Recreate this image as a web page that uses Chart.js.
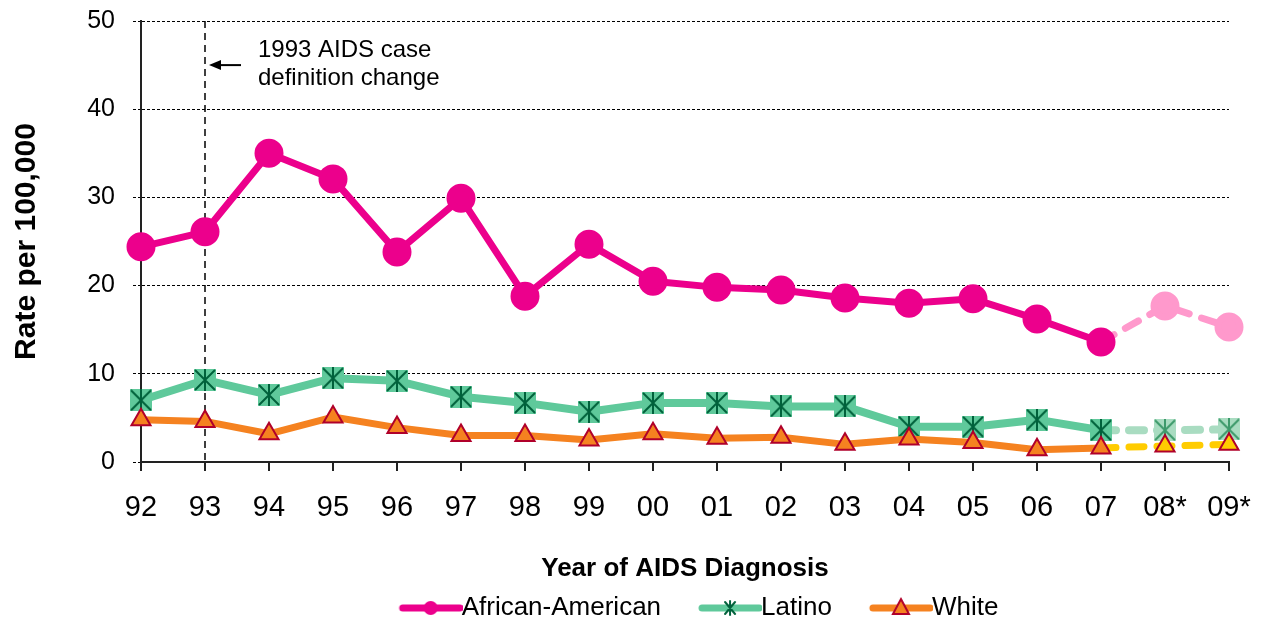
<!DOCTYPE html>
<html>
<head>
<meta charset="utf-8">
<script src="https://cdn.jsdelivr.net/npm/chart.js@4.4.1/dist/chart.umd.min.js"></script>
<style>
  html, body { margin: 0; padding: 0; background: #fff; }
  #wrap { width: 1262px; height: 623px; }
</style>
</head>
<body>
<div id="wrap"><canvas id="c"></canvas></div>
<script>
// years of diagnosis (08*, 09* are projections)
const years = ["92", "93", "94", "95", "96", "97", "98", "99", "00", "01", "02", "03", "04", "05", "06", "07", "08*", "09*"];
const africanAmerican = [24.4, 26.1, 35.0, 32.1, 23.8, 29.9, 18.8, 24.7, 20.5, 19.8, 19.5, 18.6, 18.0, 18.5, 16.2, 13.6, 17.7, 15.3];
const latino = [7.0, 9.3, 7.6, 9.5, 9.2, 7.4, 6.7, 5.7, 6.7, 6.7, 6.3, 6.3, 4.0, 4.0, 4.8, 3.6, 3.6, 3.7];
const white = [4.8, 4.6, 3.2, 5.1, 3.9, 3.0, 3.0, 2.5, 3.2, 2.7, 2.8, 2.0, 2.6, 2.2, 1.4, 1.6, 1.8, 2.0];
const firstProjected = 16;
const yTicks = [0, 10, 20, 30, 40, 50];

const FONT = "'Liberation Sans', Arial, sans-serif";

function latinoMarker(size, fill, stroke) {
  const c = document.createElement("canvas");
  c.width = size; c.height = size;
  const g = c.getContext("2d");
  g.fillStyle = fill;
  g.fillRect(0, 0, size, size);
  g.strokeStyle = stroke;
  g.lineWidth = 2;
  g.beginPath();
  g.moveTo(1, 1); g.lineTo(size - 1, size - 1);
  g.moveTo(size - 1, 1); g.lineTo(1, size - 1);
  g.moveTo(size / 2, 0); g.lineTo(size / 2, size);
  g.stroke();
  return c;
}

const latinoDark = latinoMarker(22, "#5fc99b", "#00613b");
const latinoLight = latinoMarker(22, "#a9dcc1", "#3d9a6b");

// legend icon: blank gap on the left, then a short line with the marker
const iconGap = 41;
function legendIcon(color, drawMarker) {
  const c = document.createElement("canvas");
  c.width = iconGap + 64; c.height = 24;
  const g = c.getContext("2d");
  g.strokeStyle = color;
  g.lineWidth = 7;
  g.lineCap = "round";
  g.beginPath(); g.moveTo(iconGap + 4, 12); g.lineTo(iconGap + 61, 12); g.stroke();
  drawMarker(g, iconGap + 32, 12);
  return c;
}

const icons = [
  legendIcon("#ec008c", (g, x, y) => {
    g.fillStyle = "#ec008c";
    g.beginPath(); g.arc(x, y, 7, 0, Math.PI * 2); g.fill();
  }),
  legendIcon("#5fc99b", (g, x, y) => {
    g.strokeStyle = "#00613b"; g.lineWidth = 2;
    g.beginPath();
    g.moveTo(x - 5, y - 6); g.lineTo(x + 5, y + 6);
    g.moveTo(x + 5, y - 6); g.lineTo(x - 5, y + 6);
    g.moveTo(x, y - 7); g.lineTo(x, y + 7);
    g.stroke();
  }),
  legendIcon("#f58220", (g, x, y) => {
    g.fillStyle = "#f58220"; g.strokeStyle = "#b0002a"; g.lineWidth = 2;
    g.beginPath(); g.moveTo(x, y - 9); g.lineTo(x + 8, y + 6); g.lineTo(x - 8, y + 6); g.closePath();
    g.fill(); g.stroke();
  })
];

const proj = (ctx, a, b) => (ctx.p1DataIndex >= firstProjected ? a : b);
const byIndex = (a, b) => years.map((_, i) => (i >= firstProjected ? a : b));

// vertical marker for 1993 definition change plus its label
const caseChange = {
  id: "caseChange",
  beforeDatasetsDraw(chart) {
    const { ctx, chartArea, scales } = chart;
    const x = scales.x.getPixelForValue(1);
    ctx.save();
    ctx.strokeStyle = "#000";
    ctx.lineWidth = 1.5;
    ctx.setLineDash([7, 5]);
    ctx.beginPath();
    ctx.moveTo(x, chartArea.top);
    ctx.lineTo(x, chartArea.bottom);
    ctx.stroke();
    ctx.setLineDash([]);
    const ay = scales.y.getPixelForValue(45);
    ctx.lineWidth = 2;
    ctx.beginPath();
    ctx.moveTo(x + 36, ay);
    ctx.lineTo(x + 14, ay);
    ctx.stroke();
    ctx.fillStyle = "#000";
    ctx.beginPath();
    ctx.moveTo(x + 4, ay);
    ctx.lineTo(x + 16, ay - 5);
    ctx.lineTo(x + 16, ay + 5);
    ctx.closePath();
    ctx.fill();
    ctx.font = "24px " + FONT;
    ctx.textBaseline = "middle";
    ctx.fillText("1993 AIDS case", x + 53, scales.y.getPixelForValue(46.7));
    ctx.fillText("definition change", x + 53, scales.y.getPixelForValue(43.5));
    ctx.restore();
  }
};

new Chart(document.getElementById("c"), {
  type: "line",
  data: {
    labels: years,
    datasets: [
      {
        label: "African-American",
        data: africanAmerican,
        order: 2,
        borderColor: "#ec008c",
        borderWidth: 7,
        pointStyle: "circle",
        pointRadius: 11,
        pointBackgroundColor: byIndex("#ff99cc", "#ec008c"),
        pointBorderColor: byIndex("#ff99cc", "#ec008c"),
        segment: {
          borderColor: ctx => proj(ctx, "#ff99cc", undefined),
          borderDash: ctx => proj(ctx, [15, 13], undefined)
        }
      },
      {
        label: "Latino",
        data: latino,
        order: 1,
        borderColor: "#5fc99b",
        borderWidth: 8,
        pointStyle: byIndex(latinoLight, latinoDark),
        segment: {
          borderColor: ctx => proj(ctx, "#a9dcc1", undefined),
          borderDash: ctx => proj(ctx, [15, 13], undefined)
        }
      },
      {
        label: "White",
        data: white,
        order: 0,
        borderColor: "#f58220",
        borderWidth: 7,
        pointStyle: "triangle",
        pointRadius: 11,
        pointBorderWidth: 2,
        pointBackgroundColor: byIndex("#ffcc00", "#f58220"),
        pointBorderColor: "#b0002a",
        segment: {
          borderColor: ctx => proj(ctx, "#ffcc00", undefined),
          borderDash: ctx => proj(ctx, [15, 13], undefined)
        }
      }
    ]
  },
  options: {
    responsive: true,
    maintainAspectRatio: false,
    animation: false,
    clip: false,
    elements: { line: { tension: 0, borderCapStyle: "round", borderJoinStyle: "round" } },
    layout: { padding: { top: 21, right: 33, left: 0, bottom: -8 } },
    plugins: {
      tooltip: { enabled: false },
      legend: {
        position: "bottom",
        fullSize: false,
        labels: {
          usePointStyle: true,
          pointStyleWidth: 77,
          padding: 10,
          color: "#000",
          font: { family: FONT, size: 26 },
          generateLabels: chart => chart.data.datasets.map((ds, i) => ({
            text: ds.label,
            pointStyle: icons[i],
            fillStyle: ds.borderColor,
            strokeStyle: ds.borderColor,
            lineWidth: 0,
            hidden: false,
            datasetIndex: i,
            fontColor: "#000"
          }))
        }
      }
    },
    scales: {
      x: {
        offset: false,
        grid: { display: true, drawOnChartArea: false, drawTicks: true, tickLength: 9, color: "#222", lineWidth: 2 },
        border: { color: "#222", width: 2 },
        ticks: { color: "#000", font: { family: FONT, size: 29 }, padding: 20, maxRotation: 0, autoSkip: false },
        title: { display: true, text: "Year of AIDS Diagnosis", color: "#000", font: { family: FONT, size: 26, weight: "bold" }, padding: { top: 10, bottom: 1 } },
        afterFit: s => { s.height = 123; s.paddingLeft = 0; s.paddingRight = 0; }
      },
      y: {
        min: 0,
        max: 50,
        afterBuildTicks: s => { s.ticks = yTicks.map(v => ({ value: v })); },
        grid: { color: "#000", lineWidth: 1, tickLength: 8, tickBorderDash: [3, 2] },
        border: { color: "#222", width: 2, dash: [3, 2] },
        ticks: { color: "#000", font: { family: FONT, size: 25 }, padding: 18 },
        title: { display: true, text: "Rate per 100,000", color: "#000", font: { family: FONT, size: 30, weight: "bold" }, padding: { top: 9, bottom: 0 } },
        afterFit: s => { s.width = 141; s.paddingTop = 0; s.paddingBottom = 0; }
      }
    }
  },
  plugins: [caseChange]
});
</script>
</body>
</html>
